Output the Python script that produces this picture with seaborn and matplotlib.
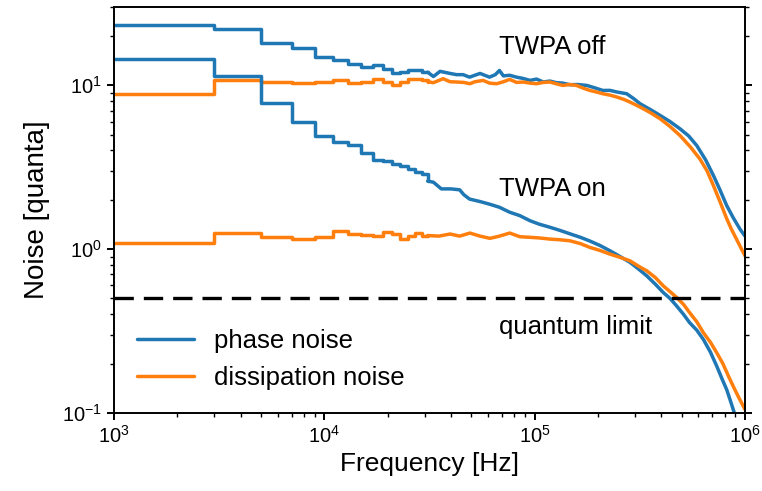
import matplotlib
matplotlib.use("Agg")
import matplotlib.pyplot as plt
import seaborn as sns
import pandas as pd
from matplotlib.lines import Line2D
from matplotlib.ticker import LogLocator, NullFormatter

# ---------------- data ----------------
# low-frequency bins (2 kHz spacing), drawn as steps
bin_freq = [1e3, 3e3, 5e3, 7e3, 9e3, 11e3, 13e3, 15e3, 17e3, 19e3,
            21e3, 23e3, 25e3, 27e3, 29e3]

phase_off_bins = [23.4, 21.9, 18.1, 16.9, 14.9, 14.3, 13.5, 12.9, 13.2, 12.6,
                  11.9, 12.1, 12.4, 12.4, 12.0]
diss_off_bins = [8.87, 10.8, 10.46, 10.36, 10.46, 10.8, 10.36, 10.46, 10.85, 10.46,
                 9.97, 10.46, 10.96, 10.96, 10.7]
phase_on_bins = [14.4, 11.4, 7.78, 5.96, 4.93, 4.53, 4.3, 3.88, 3.5, 3.45,
                 3.31, 3.2, 3.08, 2.95, 2.88]
diss_on_bins = [1.088, 1.25, 1.18, 1.16, 1.18, 1.29, 1.23, 1.22, 1.20, 1.28,
                1.24, 1.16, 1.21, 1.25, 1.21]

# higher-frequency part (dense data, drawn as a line)
phase_off_f = [31e3, 33e3, 35.5e3, 39.6e3, 42.5e3, 45.7e3, 49e3, 55e3, 61e3, 65e3,
               68e3, 71e3, 76e3, 82e3, 88e3, 95e3, 102e3, 110e3, 118e3, 127e3,
               136e3, 147e3, 160e3, 177e3, 195e3, 211e3, 228e3, 246e3, 274e3, 295e3,
               317e3, 355e3, 395e3, 440e3, 491e3, 540e3, 590e3, 650e3, 708e3, 760e3,
               819e3, 880e3, 948e3, 1e6]
phase_off_v = [12.0, 11.3, 12.15, 11.8, 11.6, 11.6, 11.2, 11.8, 11.2, 11.6,
               12.3, 11.4, 11.5, 11.2, 11.0, 10.7, 10.9, 10.46, 10.6, 10.36,
               10.3, 10.07, 10.1, 9.97, 9.6, 9.29, 9.3, 9.09, 8.87, 8.3,
               7.71, 7.1, 6.54, 6.0, 5.42, 4.9, 4.28, 3.5, 2.81, 2.3,
               1.84, 1.55, 1.32, 1.2]

diss_off_f = [31e3, 33e3, 36.7e3, 39.6e3, 42.5e3, 46e3, 49.2e3, 52e3, 56.8e3, 61e3,
              65.9e3, 71e3, 76.1e3, 82e3, 88.1e3, 95e3, 102e3, 110e3, 118e3, 127e3,
              136e3, 147e3, 158e3, 170e3, 183e3, 196e3, 211e3, 228e3, 246e3, 265e3,
              284e3, 317e3, 355e3, 395e3, 440e3, 491e3, 550e3, 610e3, 660e3, 708e3,
              760e3, 819e3, 860e3, 911e3, 955e3, 1e6]
diss_off_v = [10.5, 10.36, 10.96, 10.5, 10.46, 10.4, 10.21, 10.5, 10.7, 10.3,
              10.21, 10.5, 10.85, 10.4, 10.46, 10.3, 10.21, 10.4, 10.46, 10.2,
              9.97, 10.1, 9.97, 9.6, 9.29, 9.1, 8.87, 8.7, 8.47, 8.2,
              7.89, 7.36, 6.8, 6.24, 5.6, 4.93, 4.2, 3.55, 3.0, 2.44,
              1.95, 1.53, 1.33, 1.15, 1.02, 0.91]

phase_on_f = [31e3, 33e3, 36e3, 40e3, 44e3, 46e3, 49e3, 55e3, 61e3, 68e3,
              76e3, 85e3, 95e3, 105e3, 118e3, 132e3, 147e3, 165e3, 183e3, 205e3,
              228e3, 255e3, 284e3, 310e3, 341e3, 375e3, 409e3, 440e3, 473e3, 510e3,
              545e3, 590e3, 634e3, 685e3, 734e3, 780e3, 818e3, 850e3, 879e3, 912e3,
              1e6]
phase_on_v = [2.6, 2.56, 2.33, 2.33, 2.3, 2.15, 2.02, 1.95, 1.88, 1.8,
              1.68, 1.6, 1.49, 1.42, 1.36, 1.3, 1.24, 1.18, 1.12, 1.05,
              0.977, 0.9, 0.83, 0.76, 0.687, 0.61, 0.543, 0.5, 0.45, 0.40,
              0.356, 0.32, 0.281, 0.235, 0.193, 0.16, 0.139, 0.12, 0.105, 0.091,
              0.07]

diss_on_f = [31e3, 35e3, 39.6e3, 44e3, 49.2e3, 55e3, 61.3e3, 68e3, 76.1e3, 85e3,
             95e3, 105e3, 118e3, 132e3, 147e3, 165e3, 183e3, 205e3, 228e3, 255e3,
             284e3, 310e3, 341e3, 375e3, 409e3, 440e3, 473e3, 510e3, 545e3, 590e3,
             634e3, 685e3, 734e3, 785e3, 834e3, 880e3, 926e3, 1e6]
diss_on_v = [1.21, 1.2, 1.236, 1.2, 1.253, 1.2, 1.163, 1.2, 1.253, 1.19,
             1.18, 1.17, 1.151, 1.14, 1.124, 1.08, 1.024, 0.98, 0.932, 0.89,
             0.848, 0.79, 0.737, 0.67, 0.596, 0.55, 0.507, 0.46, 0.41, 0.36,
             0.309, 0.27, 0.233, 0.2, 0.168, 0.145, 0.127, 0.105]

quantum_limit = 0.5
legend_labels = ["phase noise", "dissipation noise"]
annotations = [("TWPA off", 6.8e4, 15.6), ("TWPA on", 6.8e4, 2.11),
               ("quantum limit", 6.8e4, 0.302)]

# ---------------- style ----------------
sns.set_style("ticks")
plt.rcParams["font.family"] = ["Liberation Sans", "DejaVu Sans"]
plt.rcParams["mathtext.fontset"] = "custom"
plt.rcParams["mathtext.rm"] = "Liberation Sans"
plt.rcParams["mathtext.it"] = "Liberation Sans:italic"
plt.rcParams["mathtext.bf"] = "Liberation Sans:bold"
plt.rcParams.update({
    "axes.edgecolor": "black", "xtick.color": "black", "ytick.color": "black",
    "axes.linewidth": 1.4, "text.color": "black", "axes.labelcolor": "black",
})

BLUE = "#1f77b4"
ORANGE = "#ff7f0e"
LW = 2.5

fig, ax = plt.subplots(figsize=(7.62, 4.91), dpi=100)
fig.subplots_adjust(left=0.1496, right=0.9777, top=0.9857, bottom=0.1589)


def draw(bins, f, v, color):
    xs = bin_freq + [f[0]]
    ys = bins + [v[0]]
    sns.lineplot(x=xs, y=ys, ax=ax, color=color, lw=LW, drawstyle="steps-post",
                 estimator=None, sort=False, legend=False)
    sns.lineplot(x=f, y=v, ax=ax, color=color, lw=LW, estimator=None,
                 sort=False, legend=False)


draw(phase_off_bins, phase_off_f, phase_off_v, BLUE)
draw(diss_off_bins, diss_off_f, diss_off_v, ORANGE)
draw(phase_on_bins, phase_on_f, phase_on_v, BLUE)
draw(diss_on_bins, diss_on_f, diss_on_v, ORANGE)

ax.axhline(quantum_limit, color="black", lw=2.4, linestyle=(0, (5.8, 3.0)))

ax.set_xscale("log")
ax.set_yscale("log")
ax.set_xlim(1e3, 1e6)
ax.set_ylim(0.1, 30)

ax.set_xlabel("Frequency [Hz]", fontsize=19)
ax.set_ylabel("Noise [quanta]", fontsize=20, labelpad=9)

ax.yaxis.set_minor_locator(LogLocator(base=10, subs=range(2, 10), numticks=20))
ax.yaxis.set_minor_formatter(NullFormatter())
ax.xaxis.set_minor_locator(LogLocator(base=10, subs=range(2, 10), numticks=20))
ax.xaxis.set_minor_formatter(NullFormatter())
ax.tick_params(axis="both", which="major", direction="out", length=5, width=1.4,
               labelsize=14.5, right=True, top=False)
ax.tick_params(axis="both", which="minor", direction="out", length=3, width=1.0,
               right=True, top=False)
sns.despine(ax=ax, top=False, right=False)

for txt, x, y in annotations:
    ax.text(x, y, txt, fontsize=18.5, ha="left", va="baseline")

handles = [Line2D([], [], color=BLUE, lw=LW), Line2D([], [], color=ORANGE, lw=LW)]
ax.legend(handles, legend_labels, loc="lower left", frameon=False, fontsize=18.5,
          handlelength=2.2)

fig.savefig("out.png", dpi=100)
